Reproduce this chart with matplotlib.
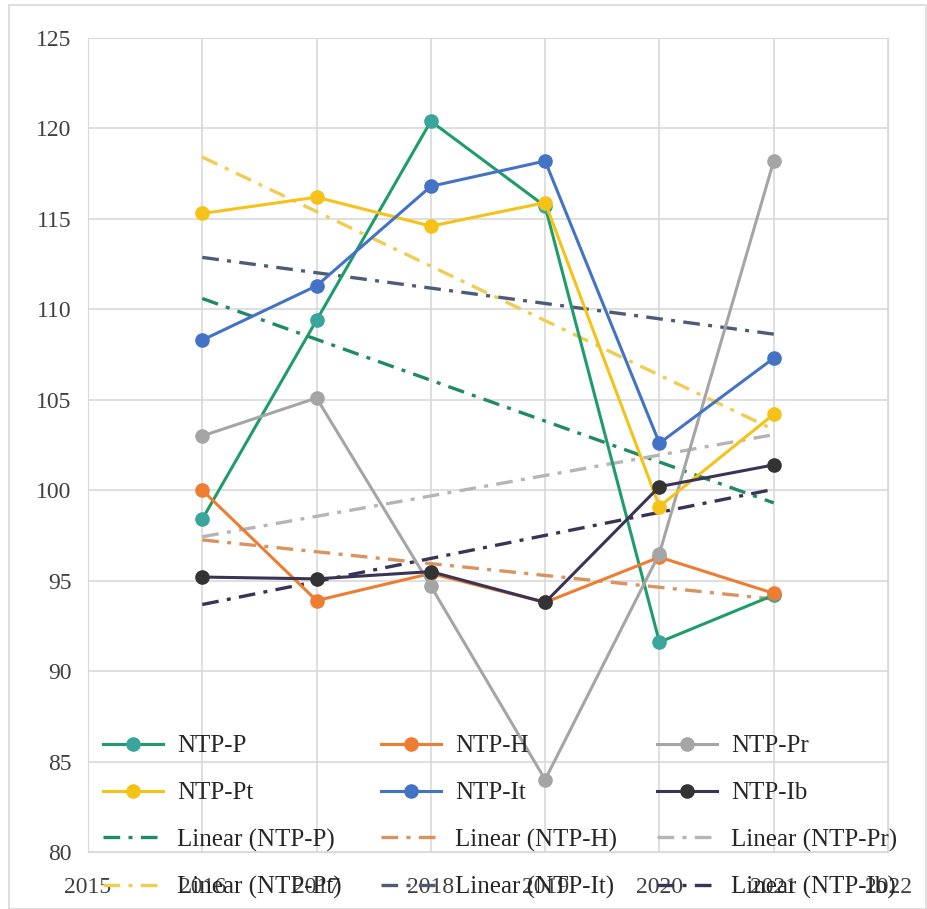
import numpy as np
import matplotlib
matplotlib.use('Agg')
import matplotlib.pyplot as plt
from matplotlib.patches import Rectangle

years = [2016, 2017, 2018, 2019, 2020, 2021]
ntp_p = [98.4, 109.4, 120.4, 115.7, 91.6, 94.2]
ntp_h = [100.0, 93.9, 95.4, 93.8, 96.3, 94.3]
ntp_pr = [103.0, 105.1, 94.7, 84.0, 96.5, 118.2]
ntp_pt = [115.3, 116.2, 114.6, 115.9, 99.1, 104.2]
ntp_it = [108.3, 111.3, 116.8, 118.2, 102.6, 107.3]
ntp_ib = [95.2, 95.1, 95.5, 93.8, 100.2, 101.4]

names = ['NTP-P', 'NTP-H', 'NTP-Pr', 'NTP-Pt', 'NTP-It', 'NTP-Ib']
series = [ntp_p, ntp_h, ntp_pr, ntp_pt, ntp_it, ntp_ib]
line_cols = ['#1f9c6b', '#ed7d31', '#a5a5a5', '#f5c218', '#4472c4', '#3b3356']
mark_cols = ['#3aa59c', '#ed7d31', '#a5a5a5', '#f5c218', '#4472c4', '#333333']
trend_cols = ['#1f8a63', '#d9935f', '#b5b5b5', '#f0cc50', '#4d5a78', '#3b3356']

plt.rcParams['font.family'] = ['Liberation Serif', 'DejaVu Serif']

fig = plt.figure(figsize=(9.28, 9.09), dpi=100)
ax = fig.add_axes([88/928, 1 - 852/909, 800/928, 814/909])

x = np.array(years)
lines = []
trends = []
for name, y, lc, mc in zip(names, series, line_cols, mark_cols):
    l, = ax.plot(x, y, color=lc, lw=2.2, marker='o', markersize=9.5,
                 markerfacecolor=mc, markeredgecolor=mc, label=name, zorder=3)
    lines.append(l)

# excel style linear trendlines
for name, y, tc in zip(names, series, trend_cols):
    k, b = np.polyfit(x, y, 1)
    t, = ax.plot(x, k * x + b, color=tc, lw=2.4, dashes=(5, 2.5, 1.2, 2.5),
                 label='Linear (%s)' % name, zorder=2)
    trends.append(t)

ax.set_xlim(2015, 2022)
ax.set_ylim(80, 125)
ax.set_xticks(range(2015, 2023))
ax.set_yticks(range(80, 126, 5))
ax.grid(True, color='#d9d9d9', lw=1.2)
ax.set_axisbelow(True)
for s in ax.spines.values():
    s.set_color('#d9d9d9')
ax.tick_params(length=0, labelsize=17, colors='#404040')
ax.tick_params(axis='y', pad=12)
ax.tick_params(axis='x', pad=18)

allh = lines + trends
# row-wise -> column-first for legend
hs = [allh[i] for i in [0, 3, 6, 9, 1, 4, 7, 10, 2, 5, 8, 11]]
fig.legend(handles=hs, labels=[h.get_label() for h in hs], ncol=3,
           loc='upper left', bbox_to_anchor=(103/928, 1 - 735/909),
           frameon=False, fontsize=18, handlelength=2.4, handletextpad=0.55,
           columnspacing=1.6, labelspacing=0.97, borderpad=0, borderaxespad=0,
           labelcolor='#262626')

fig.patches.append(Rectangle((9/928, 0), 917/928, 1 - 5/909, transform=fig.transFigure,
                             fill=False, edgecolor='#d9d9d9', lw=1.2))

fig.savefig('out.png', dpi=100)
